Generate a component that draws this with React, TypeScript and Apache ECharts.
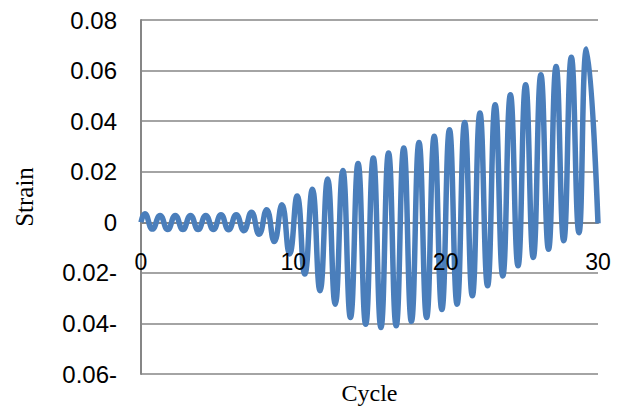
import React, { useEffect, useRef } from "react";
import * as echarts from "echarts";

// Peak strain of each cycle (cycles 0..29)
const peaks = [
  0.0034, 0.0027, 0.0027, 0.0027, 0.0027, 0.003, 0.003, 0.004, 0.005, 0.0069,
  0.0104, 0.0131, 0.0171, 0.0205, 0.0232, 0.0254, 0.0274, 0.0294, 0.0316, 0.034,
  0.0366, 0.0395, 0.0432, 0.0465, 0.0504, 0.0544, 0.0583, 0.0616, 0.0653, 0.0685,
];
// Trough strain of each cycle (cycles 0..28)
const troughs = [
  -0.0027, -0.0029, -0.0029, -0.0029, -0.0029, -0.003, -0.0033, -0.0047, -0.0076, -0.0125,
  -0.0205, -0.0271, -0.0324, -0.0377, -0.0403, -0.0416, -0.0409, -0.0392, -0.0377, -0.0345,
  -0.0324, -0.0291, -0.0251, -0.0212, -0.0172, -0.0139, -0.0107, -0.0073, -0.0041,
];
const startValue = 0;
const endValue = -0.0004;
const xTicks = [0, 10, 20, 30];
const yTicks = [-0.06, -0.04, -0.02, 0, 0.02, 0.04, 0.06, 0.08];

function buildSeries(): [number, number][] {
  const pts: [number, number][] = [[0, startValue]];
  for (let n = 0; n < peaks.length; n++) {
    pts.push([n + 0.25, peaks[n]]);
    if (n < troughs.length) pts.push([n + 0.75, troughs[n]]);
  }
  pts.push([xTicks[xTicks.length - 1], endValue]);
  return pts;
}

const W = 625;
const H = 409;
const GRID = { left: 141, right: 27, top: 20, bottom: 35 };

export default function App() {
  const ref = useRef<HTMLDivElement>(null);
  useEffect(() => {
    if (!ref.current) return;
    const chart = echarts.init(ref.current, undefined, { renderer: "svg" });
    const gridColor = "#868686";
    const yMin = yTicks[0];
    const yMax = yTicks[yTicks.length - 1];
    const gridHeight = H - GRID.top - GRID.bottom;
    // move the x axis up to where the y value is 0 (axis crosses at zero)
    const zeroOffset = -gridHeight * (0 - yMin) / (yMax - yMin);
    const xBase = {
      type: "value",
      position: "bottom",
      offset: zeroOffset,
      min: xTicks[0],
      max: xTicks[xTicks.length - 1],
      interval: 10,
      axisTick: { show: false },
      splitLine: { show: false },
    };
    chart.setOption({
      animation: false,
      grid: { ...GRID, containLabel: false, outerBoundsMode: "none" },
      xAxis: [
        {
          ...xBase,
          axisLine: { onZero: false, lineStyle: { color: gridColor, width: 2 } },
          axisLabel: { show: false },
        },
        {
          ...xBase,
          z: 10,
          name: "Cycle",
          nameLocation: "middle",
          nameGap: 159,
          nameTextStyle: { fontFamily: "Liberation Serif", fontSize: 24, color: "#000" },
          axisLine: { show: false, onZero: false },
          axisLabel: {
            margin: 28,
            fontFamily: "Liberation Sans",
            fontSize: 23,
            color: "#000",
            formatter: (v: number) => String(v),
          },
        },
      ],
      yAxis: {
        type: "value",
        min: yMin,
        max: yMax,
        interval: 0.02,
        name: "Strain",
        nameLocation: "middle",
        nameGap: 104,
        nameRotate: 90,
        nameTextStyle: { fontFamily: "Liberation Serif", fontSize: 25, color: "#000" },
        axisLine: { show: true, onZero: false, lineStyle: { color: gridColor, width: 2 } },
        axisTick: { show: false },
        splitLine: { show: true, lineStyle: { color: gridColor, width: 1.5 } },
        axisLabel: {
          margin: 24,
          fontFamily: "Liberation Sans",
          fontSize: 24,
          color: "#000",
          formatter: (v: number) => {
            if (Math.abs(v) < 1e-9) return "0";
            return v < 0 ? (-v).toFixed(2) + "-" : v.toFixed(2);
          },
        },
      },
      series: [
        {
          type: "line",
          xAxisIndex: 0,
          data: buildSeries(),
          smooth: 0.5,
          showSymbol: false,
          lineStyle: { color: "#4a7ebb", width: 5.5 },
          z: 3,
        },
      ],
    });
    return () => chart.dispose();
  }, []);
  return (
    <div
      ref={ref}
      style={{ position: "fixed", left: 0, top: 0, width: W, height: H, background: "#fff" }}
    />
  );
}
